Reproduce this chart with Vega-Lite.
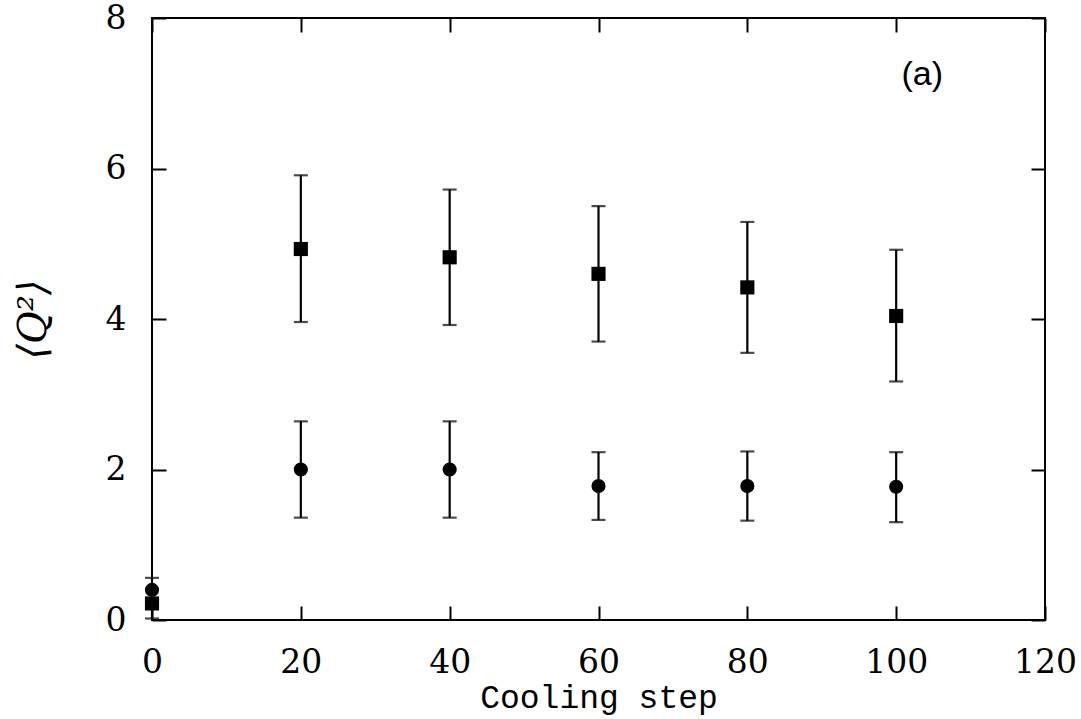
{
  "$schema": "https://vega.github.io/schema/vega-lite/v6.json",
  "width": 893,
  "height": 602,
  "autosize": {"type": "none"},
  "padding": {"left": 152, "top": 18, "right": 36, "bottom": 99},
  "background": "white",
  "config": {
    "view": {"stroke": "black", "strokeWidth": 2},
    "axis": {
      "grid": false,
      "domain": false,
      "tickColor": "black",
      "tickWidth": 2,
      "tickSize": -14,
      "labelFlush": false,
      "labelColor": "black",
      "labelFont": "DejaVu Serif",
      "labelFontSize": 33,
      "titleColor": "black"
    }
  },
  "datasets": {
    "pts": [
      {"step": 0, "series": "square", "q2": 0.22, "lo": 0.02, "hi": 0.42},
      {"step": 20, "series": "square", "q2": 4.93, "lo": 3.96, "hi": 5.91},
      {"step": 40, "series": "square", "q2": 4.82, "lo": 3.92, "hi": 5.72},
      {"step": 60, "series": "square", "q2": 4.6, "lo": 3.7, "hi": 5.5},
      {"step": 80, "series": "square", "q2": 4.42, "lo": 3.55, "hi": 5.29},
      {"step": 100, "series": "square", "q2": 4.04, "lo": 3.17, "hi": 4.92},
      {"step": 0, "series": "circle", "q2": 0.4, "lo": 0.25, "hi": 0.56},
      {"step": 20, "series": "circle", "q2": 2.0, "lo": 1.36, "hi": 2.64},
      {"step": 40, "series": "circle", "q2": 2.0, "lo": 1.36, "hi": 2.64},
      {"step": 60, "series": "circle", "q2": 1.78, "lo": 1.33, "hi": 2.23},
      {"step": 80, "series": "circle", "q2": 1.78, "lo": 1.32, "hi": 2.24},
      {"step": 100, "series": "circle", "q2": 1.77, "lo": 1.3, "hi": 2.23}
    ],
    "lab": [{"step": 103.5, "q2": 7.24, "text": "(a)"}]
  },
  "resolve": {"axis": {"x": "independent", "y": "independent"}},
  "layer": [
    {
      "data": {"name": "pts"},
      "mark": {"type": "rule", "color": "black", "strokeWidth": 2.2},
      "encoding": {
        "x": {"field": "step", "type": "quantitative", "scale": {"domain": [0, 120], "nice": false, "zero": false},
              "axis": {"values": [0, 20, 40, 60, 80, 100, 120], "title": "Cooling step", "titleFont": "Liberation Mono", "titleFontSize": 33, "titleFontWeight": "normal", "labelPadding": 40, "titlePadding": 2, "orient": "bottom"}},
        "y": {"field": "lo", "type": "quantitative", "scale": {"domain": [0, 8], "nice": false, "zero": false},
              "axis": {"values": [0, 2, 4, 6, 8], "title": "⟨Q²⟩", "titleFont": "DejaVu Serif", "titleFontSize": 40, "titleFontWeight": "normal", "titleFontStyle": "italic", "labelPadding": 40, "titlePadding": 52, "orient": "left"}},
        "y2": {"field": "hi"}
      }
    },
    {
      "data": {"name": "pts"},
      "mark": {"type": "tick", "color": "black", "thickness": 2.2, "size": 14, "orient": "horizontal"},
      "encoding": {
        "x": {"field": "step", "type": "quantitative", "axis": {"orient": "top", "values": [0, 20, 40, 60, 80, 100, 120], "labels": false, "title": null}},
        "y": {"field": "hi", "type": "quantitative", "axis": {"orient": "right", "values": [0, 2, 4, 6, 8], "labels": false, "title": null}}
      }
    },
    {
      "data": {"name": "pts"},
      "mark": {"type": "tick", "color": "black", "thickness": 2.2, "size": 14, "orient": "horizontal"},
      "encoding": {
        "x": {"field": "step", "type": "quantitative", "axis": null},
        "y": {"field": "lo", "type": "quantitative", "axis": null}
      }
    },
    {
      "data": {"name": "pts"},
      "mark": {"type": "point", "filled": true, "color": "black", "opacity": 1},
      "encoding": {
        "x": {"field": "step", "type": "quantitative", "axis": null},
        "y": {"field": "q2", "type": "quantitative", "axis": null},
        "shape": {"field": "series", "type": "nominal", "scale": {"domain": ["square", "circle"], "range": ["square", "circle"]}, "legend": null},
        "size": {"field": "series", "type": "nominal", "scale": {"domain": ["square", "circle"], "range": [200, 200]}, "legend": null}
      }
    },
    {
      "data": {"name": "lab"},
      "mark": {"type": "text", "font": "Liberation Sans", "fontSize": 34, "color": "black", "align": "center", "baseline": "middle"},
      "encoding": {
        "x": {"field": "step", "type": "quantitative", "axis": null},
        "y": {"field": "q2", "type": "quantitative", "axis": null},
        "text": {"field": "text"}
      }
    }
  ]
}
